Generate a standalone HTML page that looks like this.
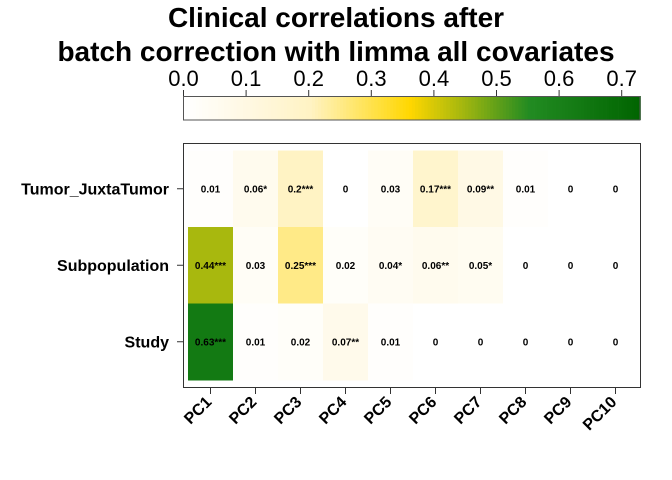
<!DOCTYPE html>
<html><head><meta charset="utf-8"><style>
body{margin:0;background:#fff;}
svg{display:block;font-family:"Liberation Sans",sans-serif;}
</style></head><body>
<svg id="chart" width="672" height="480">
<text x="336" y="27" text-anchor="middle" font-size="28" font-weight="bold">Clinical correlations after</text>
<text x="336" y="61" text-anchor="middle" font-size="28" font-weight="bold">batch correction with limma all covariates</text>
<g id="cbar"></g>
<g id="cells"></g>
<rect x="183.5" y="143.5" width="457" height="244" fill="none" stroke="#333" stroke-width="1"/>
<g id="axes"></g>
</svg>
<script>
const rows=["Tumor_JuxtaTumor","Subpopulation","Study"];
const cols=["PC1","PC2","PC3","PC4","PC5","PC6","PC7","PC8","PC9","PC10"];
const tumorVals=[0.01,0.06,0.2,0,0.03,0.17,0.09,0.01,0,0];
const tumorLabels=["0.01","0.06*","0.2***","0","0.03","0.17***","0.09**","0.01","0","0"];
const subpopVals=[0.44,0.03,0.25,0.02,0.04,0.06,0.05,0,0,0];
const subpopLabels=["0.44***","0.03","0.25***","0.02","0.04*","0.06**","0.05*","0","0","0"];
const studyVals=[0.63,0.01,0.02,0.07,0.01,0,0,0,0,0];
const studyLabels=["0.63***","0.01","0.02","0.07**","0.01","0","0","0","0","0"];
const legendTicks=[0,0.1,0.2,0.3,0.4,0.5,0.6,0.7];
const NS="http://www.w3.org/2000/svg";
const stops=[[0,[255,255,255]],[0.1,[255,248,226]],[0.2,[255,243,196]],[0.36,[255,215,0]],[0.44,[168,184,14]],[0.55,[34,139,34]],[0.73,[0,100,0]]];
function col(v){for(let i=1;i<stops.length;i++){if(v<=stops[i][0]){const a=stops[i-1],b=stops[i];const t=(v-a[0])/(b[0]-a[0]);return "rgb("+a[1].map((c,k)=>Math.round(c+(b[1][k]-c)*t)).join(",")+")";}}return "rgb(0,100,0)";}
const lx=v=>183.5+v*626;
const cx0=188,cw=45,cy0=150.5,ch=76.5;
const xc=i=>cx0+i*cw, yr=j=>cy0+j*ch;
function mk(tag,attrs,parent){const e=document.createElementNS(NS,tag);for(const k in attrs)e.setAttribute(k,attrs[k]);parent.appendChild(e);return e;}
const cb=document.getElementById('cbar');
for(let v=0;v<0.73;v+=0.005){const r=mk('rect',{x:lx(v),y:96,width:3.5,height:24,fill:col(v)},cb);

}
const fr=mk('rect',{x:183.5,y:96.5,width:456.5,height:23.5,fill:'none',stroke:'#555'},cb);


legendTicks.forEach(v=>{mk('line',{x1:lx(v),x2:lx(v),y1:90,y2:96,stroke:'#333'},cb);
const t=mk('text',{x:lx(v),y:86,'text-anchor':'middle','font-size':22},cb);t.textContent=v.toFixed(1);

});
const cells=document.getElementById('cells');
const vals=[tumorVals,subpopVals,studyVals],labs=[tumorLabels,subpopLabels,studyLabels];
vals.forEach((arr,j)=>arr.forEach((v,i)=>{
const r=mk('rect',{x:xc(i),y:yr(j),width:cw+0.5,height:ch+0.5,fill:col(v)},cells);


const t=mk('text',{x:xc(i)+cw/2,y:yr(j)+ch/2+3.5,'text-anchor':'middle','font-size':10,'font-weight':'bold'},cells);
t.textContent=labs[j][i];


}));
const ax=document.getElementById('axes');
rows.forEach((r,j)=>{const y=yr(j)+ch/2;
mk('line',{x1:177,x2:183.5,y1:y,y2:y,stroke:'#333'},ax);
const t=mk('text',{x:169,y:y+5.5,'text-anchor':'end','font-size':16,'font-weight':'bold'},ax);t.textContent=r;

});
cols.forEach((c,i)=>{const x=xc(i)+cw/2;
mk('line',{x1:x,x2:x,y1:387.5,y2:394,stroke:'#333'},ax);
const t=mk('text',{x:x+2,y:403,'text-anchor':'end','font-size':16,'font-weight':'bold',transform:'rotate(-45 '+(x+2)+' 403)'},ax);t.textContent=c;

});
</script>
</body></html>
